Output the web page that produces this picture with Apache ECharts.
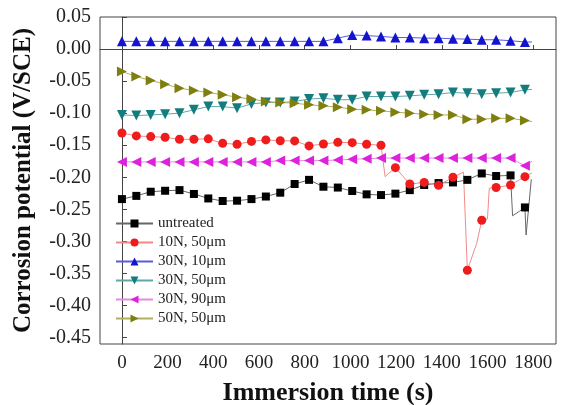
<!DOCTYPE html>
<html>
<head>
<meta charset="utf-8">
<script src="https://cdn.jsdelivr.net/npm/echarts@6/dist/echarts.min.js"></script>
<style>html,body{margin:0;padding:0;background:#fff}#c{width:565px;height:405px}</style>
</head>
<body>
<div id="c"></div>
<script>
// Immersion time (s) of marker points
var times = [0, 63, 126, 189, 252, 315, 378, 441, 504, 567, 630, 693, 756, 819, 882, 945, 1008, 1071, 1134, 1197, 1260, 1323, 1386, 1449, 1512, 1575, 1638, 1701, 1764];
var xTicks = [0, 200, 400, 600, 800, 1000, 1200, 1400, 1600, 1800];
var yTicks = [-0.45, -0.40, -0.35, -0.30, -0.25, -0.20, -0.15, -0.10, -0.05, 0.00, 0.05];
var seriesNames = ['untreated', '10N, 50\u03bcm', '30N, 10\u03bcm', '30N, 50\u03bcm', '30N, 90\u03bcm', '50N, 50\u03bcm'];

// Corrosion potential (V/SCE) at marker points
var untreated = [-0.234, -0.229, -0.2225, -0.221, -0.220, -0.226, -0.233, -0.237, -0.2365, -0.234, -0.230, -0.224, -0.2105, -0.204, -0.2147, -0.216, -0.2214, -0.2266, -0.2277, -0.2255, -0.220, -0.212, -0.209, -0.208, -0.204, -0.194, -0.198, -0.197, -0.247];
var n10_50 = [-0.131, -0.1355, -0.1365, -0.1376, -0.1407, -0.1407, -0.140, -0.147, -0.1485, -0.144, -0.1417, -0.143, -0.1433, -0.151, -0.148, -0.1455, -0.146, -0.1485, -0.150, -0.185, -0.2105, -0.208, -0.2125, -0.200, -0.345, -0.267, -0.216, -0.212, -0.199];
var n30_10 = [0.012, 0.012, 0.012, 0.012, 0.012, 0.012, 0.012, 0.012, 0.012, 0.012, 0.012, 0.012, 0.012, 0.012, 0.012, 0.017, 0.022, 0.021, 0.0197, 0.018, 0.018, 0.017, 0.017, 0.016, 0.0155, 0.0145, 0.0145, 0.013, 0.011];
var n30_50 = [-0.1027, -0.1037, -0.1027, -0.1016, -0.100, -0.0948, -0.0897, -0.0897, -0.0922, -0.0855, -0.0834, -0.0834, -0.0818, -0.078, -0.0766, -0.079, -0.079, -0.074, -0.074, -0.074, -0.073, -0.0714, -0.0703, -0.0678, -0.0688, -0.0703, -0.0688, -0.0678, -0.0636];
var n30_90 = [-0.176, -0.176, -0.176, -0.176, -0.176, -0.176, -0.176, -0.176, -0.176, -0.176, -0.176, -0.174, -0.174, -0.174, -0.174, -0.173, -0.172, -0.171, -0.170, -0.170, -0.170, -0.170, -0.170, -0.170, -0.170, -0.170, -0.170, -0.170, -0.182];
var n50_50 = [-0.035, -0.0428, -0.049, -0.0547, -0.061, -0.0647, -0.0678, -0.0714, -0.075, -0.078, -0.0818, -0.0834, -0.0844, -0.087, -0.0886, -0.0906, -0.0938, -0.0948, -0.0964, -0.0984, -0.100, -0.1016, -0.1027, -0.1027, -0.1094, -0.1094, -0.108, -0.108, -0.1115];

// extra points of the thin recorded trace between markers [time, potential]
var untreatedTrace = [[1710, -0.260], [1740, -0.253], [1769, -0.290], [1792, -0.203]];
var n10_50Trace = [[1152, -0.199], [1495, -0.192], [1553, -0.303], [1600, -0.265], [1608, -0.217], [1795, -0.193]];
var n30_10Trace = [[1795, 0.011]];
var n30_50Trace = [[1795, -0.063]];
var n30_90Trace = [[1795, -0.175]];
var n50_50Trace = [[1795, -0.113]];

var colors = ['#000000', '#ee1c1c', '#1414cc', '#137d7d', '#dd22dd', '#7f7f10'];
var lineColors = ['#666666', '#f08a8a', '#5a5ae0', '#5fa8a8', '#e68ae6', '#b0b060'];
var symbols = ['rect', 'circle', 'triangle', 'path://M0,0L10,0L5,9Z', 'path://M9,0L0,5L9,10Z', 'path://M0,0L9,5L0,10Z'];
var sizes = [8, 9, 10, 10, 10, 10];

function build(vals, trace) {
  var pts = times.map(function (t, i) { return { value: [t, vals[i]] }; });
  trace.forEach(function (p) { pts.push({ value: [p[0], p[1]], symbol: 'none' }); });
  pts.sort(function (a, b) { return a.value[0] - b.value[0]; });
  return pts;
}
var allVals = [untreated, n10_50, n30_10, n30_50, n30_90, n50_50];
var allTraces = [untreatedTrace, n10_50Trace, n30_10Trace, n30_50Trace, n30_90Trace, n50_50Trace];

var serif = "'Liberation Serif','Times New Roman',serif";
var series = seriesNames.map(function (name, k) {
  return {
    name: name, type: 'line', data: build(allVals[k], allTraces[k]),
    symbol: symbols[k], symbolSize: sizes[k], showAllSymbol: true,
    itemStyle: { color: colors[k] },
    lineStyle: { color: lineColors[k], width: 1 },
    animation: false, z: 2
  };
});

var chart = echarts.init(document.getElementById('c'));
chart.setOption({
  animation: false,
  grid: { left: 100, right: 9, top: 17, bottom: 61, show: true, borderColor: '#444', borderWidth: 1,
    outerBoundsMode: 'none', containLabel: false },
  legend: {
    orient: 'vertical', left: 110, top: 211, itemWidth: 37, itemHeight: 10, itemGap: 4,
    data: seriesNames,
    textStyle: { fontFamily: serif, fontSize: 15, color: '#222' }
  },
  xAxis: {
    type: 'value', min: -96, max: 1900,
    name: 'Immersion time (s)', nameLocation: 'middle', nameGap: 36,
    nameTextStyle: { fontFamily: serif, fontSize: 26, fontWeight: 'bold', color: '#111' },
    axisLine: { show: true, lineStyle: { color: '#444' } },
    axisTick: { show: true, inside: true, length: 4, customValues: xTicks, lineStyle: { color: '#444' } },
    axisLabel: { customValues: xTicks, margin: 10, fontFamily: serif, fontSize: 19, color: '#222',
      formatter: function (v) { return String(v); } },
    splitLine: { show: false }
  },
  yAxis: {
    type: 'value', min: -0.46, max: 0.05,
    name: 'Corrosion potential (V/SCE)', nameLocation: 'middle', nameGap: 64,
    nameTextStyle: { fontFamily: serif, fontSize: 25, fontWeight: 'bold', color: '#111' },
    axisLine: { show: true, lineStyle: { color: '#444' } },
    axisTick: { show: true, inside: true, length: 5, customValues: yTicks, lineStyle: { color: '#444' } },
    axisLabel: { customValues: yTicks, margin: 9, fontFamily: serif, fontSize: 20, color: '#222',
      formatter: function (v) { return v.toFixed(2); } },
    splitLine: { show: false }
  },
  series: series
});
</script>
</body>
</html>
